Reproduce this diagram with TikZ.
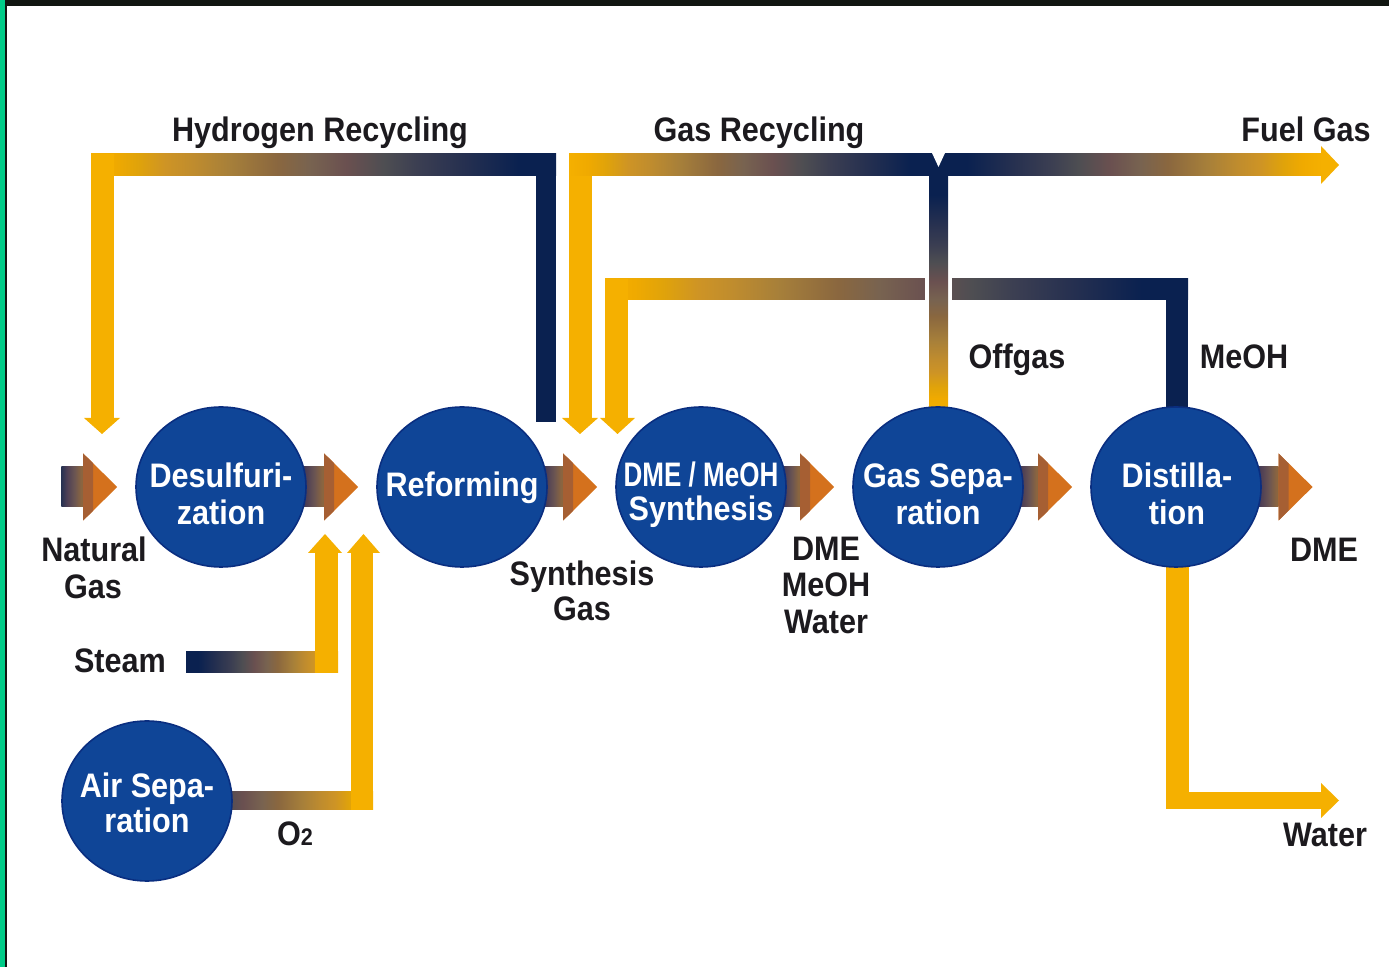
\documentclass[tikz,border=0pt]{standalone}
\usepackage{fontspec}
\usepackage{graphicx}
\setmainfont{Liberation Sans}[FakeStretch=0.9]
\usetikzlibrary{shapes.geometric,calc}
\definecolor{circblue}{HTML}{0F4597}
\definecolor{circedge}{HTML}{0A2E80}
\definecolor{navy}{HTML}{0A2150}
\definecolor{gold}{HTML}{F5B000}
\definecolor{hbrown}{HTML}{A65F33}
\definecolor{horange}{HTML}{D4711D}
\definecolor{txt}{HTML}{1C1A1E}
\definecolor{framegreen}{HTML}{00CC88}
\definecolor{framedark}{HTML}{111611}
\definecolor{f0}{HTML}{F5B000}
\definecolor{f1}{HTML}{F0AA00}
\definecolor{f2}{HTML}{E0A30A}
\definecolor{f3}{HTML}{CE9425}
\definecolor{f4}{HTML}{BF8C2E}
\definecolor{f5}{HTML}{A67F3A}
\definecolor{f6}{HTML}{8A673F}
\definecolor{f7}{HTML}{786350}
\definecolor{f8}{HTML}{6A5050}
\definecolor{f9}{HTML}{4E4E52}
\definecolor{f10}{HTML}{3C3F52}
\definecolor{f11}{HTML}{263050}
\definecolor{f12}{HTML}{0A2150}
\definecolor{p0}{HTML}{283252}
\definecolor{p1}{HTML}{4E3F55}
\definecolor{p2}{HTML}{6B5552}
\definecolor{p3}{HTML}{8A6540}
\pgfdeclarehorizontalshading{flow}{100bp}{color(0bp)=(f0); color(25bp)=(f0); color(27.5bp)=(f1); color(30bp)=(f2); color(33bp)=(f3); color(36bp)=(f4); color(40bp)=(f5); color(45bp)=(f6); color(48.5bp)=(f7); color(52.5bp)=(f8); color(56.5bp)=(f9); color(60bp)=(f10); color(65bp)=(f11); color(71bp)=(f12); color(100bp)=(f12)}
\pgfdeclarehorizontalshading{pband}{100bp}{color(0bp)=(p0); color(25bp)=(p0); color(38bp)=(p1); color(55bp)=(p2); color(70bp)=(p3); color(100bp)=(p3)}
\pgfdeclarelayer{bg}
\pgfsetlayers{bg,main}
\newcommand\procarrow[2]{%
  \coordinate (pa-s) at ([xshift=-3.5pt]#1.east);
  \coordinate (pa-h) at ([xshift=-26pt]#2.west);
  \begin{pgfonlayer}{bg}
  \shade[shading=pband] ([yshift=-10pt]pa-s) rectangle ([yshift=10pt]pa-h);
  \end{pgfonlayer}
  \fill[horange] ([yshift=16.75pt]pa-h) -- ([xshift=17pt]pa-h) -- ([yshift=-16.75pt]pa-h) -- cycle;
  \fill[hbrown] ([yshift=16.75pt]pa-h) -- ([xshift=5pt,yshift=11.8pt]pa-h) -- ([xshift=5pt,yshift=-11.8pt]pa-h) -- ([yshift=-16.75pt]pa-h) -- cycle;
}
\begin{document}
\begin{tikzpicture}[x=0.5pt,y=-0.5pt,
  proc/.style={ellipse, fill=circblue, draw=circedge, line width=0.8pt, minimum width=85pt, minimum height=80pt, inner sep=0pt},
  lbl/.style={font=\fontsize{17}{18.5}\selectfont\bfseries, text=txt, inner sep=0pt, anchor=base},
  ptxt/.style={lbl, text=white},
  endpt/.style={inner sep=0pt, minimum size=0pt}
]
\useasboundingbox (0,0) rectangle (1389,967);
% process units
\node[proc] (desulf) at (221,487) {};
\node[proc] (reform) at (462,487) {};
\node[proc] (synth) at (701,487) {};
\node[proc] (gassep) at (938,487) {};
\node[proc] (distill) at (1176,487) {};
\node[proc] (airsep) at (147,801) {};
\node[endpt] (ngin) at (68,487) {};
\node[endpt] (dmeout) at (1331,487) {};
% texts inside units
\node[ptxt] at (221,488) {Desulfuri-};
\node[ptxt] at (221,525) {zation};
\node[ptxt] at (462,497) {Reforming};
\node[ptxt] at (701,487) {\scalebox{0.85}[1]{DME / MeOH}};
\node[ptxt] at (701,521) {Synthesis};
\node[ptxt] at (938,488) {Gas Sepa-};
\node[ptxt] at (938,525) {ration};
\node[ptxt] at (1177,488) {Distilla-};
\node[ptxt] at (1177,525) {tion};
\node[ptxt] at (147,798) {Air Sepa-};
\node[ptxt] at (147,833) {ration};
% main process arrows
\procarrow{ngin}{desulf}
\procarrow{desulf}{reform}
\procarrow{reform}{synth}
\procarrow{synth}{gassep}
\procarrow{gassep}{distill}
\procarrow{distill}{dmeout}
% frame and flow bands
\begin{pgfonlayer}{bg}
\fill[framegreen] (0,0) rectangle (5,967);
\fill[framedark] (5,0) rectangle (7,967);
\fill[framedark] (5,0) rectangle (1389,6);
% hydrogen recycling
\fill[navy] (536,154) rectangle (556,422);
\shade[shading=flow] (91,154) rectangle (556,176);
\fill[gold] (91,154) rectangle (114,420);
% gas recycling (top)
\fill[gold] (569,154) rectangle (592,420);
\shade[shading=flow] (569,154) rectangle (940,176);
\shade[shading=flow, shading angle=180] (936,154) rectangle (1322,176);
% gas recycling (lower, from distillation MeOH)
\shade[shading=flow] (605,279) rectangle (1188,300);
\fill[navy] (1166,279) rectangle (1188,412);
\fill[gold] (605,279) rectangle (628,420);
% offgas from gas separation
\fill[white] (925,277) rectangle (952,302);
\shade[shading=flow, shading angle=90] (929,176) rectangle (948,410);
% steam
\shade[shading=flow, shading angle=180] (186,652) rectangle (338,673);
\fill[gold] (315,552) rectangle (338,673);
% oxygen
\shade[shading=flow, shading angle=180] (136,792) rectangle (373,810);
\fill[gold] (351,552) rectangle (373,810);
% water
\fill[gold] (1166,560) rectangle (1189,809);
\fill[gold] (1166,792) rectangle (1322,809);
\end{pgfonlayer}
% arrow heads of the flow bands
\fill[gold] (84,418) -- (120,418) -- (102,434) -- cycle;
\fill[gold] (562,418) -- (598,418) -- (580,434) -- cycle;
\fill[gold] (600,418) -- (635,418) -- (617.5,434) -- cycle;
\fill[gold] (1321,146) -- (1339,165) -- (1321,184) -- cycle;
\fill[gold] (308,553) -- (342,553) -- (325,534) -- cycle;
\fill[gold] (347,553) -- (380,553) -- (363.5,534) -- cycle;
\fill[gold] (1321,783) -- (1339,800.5) -- (1321,818) -- cycle;
\fill[white] (932,153) -- (945,153) -- (938.5,167) -- cycle;
% labels
\node[lbl] at (320,142) {Hydrogen Recycling};
\node[lbl] at (759,142) {Gas Recycling};
\node[lbl] at (1306,142) {Fuel Gas};
\node[lbl] at (1017,369) {Offgas};
\node[lbl] at (1244,369) {MeOH};
\node[lbl] at (94,562) {Natural};
\node[lbl] at (93,599) {Gas};
\node[lbl] at (120,673) {Steam};
\node[lbl] at (295,846) {O{\fontsize{12}{12}\selectfont 2}};
\node[lbl] at (582,586) {Synthesis};
\node[lbl] at (582,621) {Gas};
\node[lbl] at (826,561) {DME};
\node[lbl] at (826,597) {MeOH};
\node[lbl] at (826,634) {Water};
\node[lbl] at (1324,562) {DME};
\node[lbl] at (1325,847) {Water};
\end{tikzpicture}
\end{document}
